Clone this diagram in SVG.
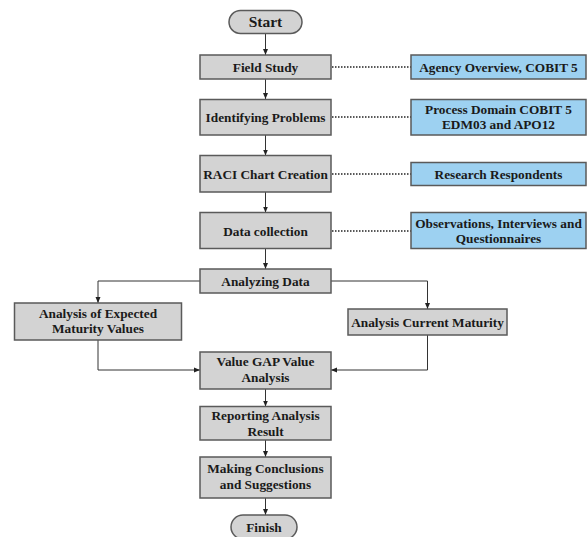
<svg xmlns="http://www.w3.org/2000/svg" width="587" height="537" viewBox="0 0 587 537">
<defs>
<marker id="arr" markerWidth="6" markerHeight="6" refX="6" refY="3" orient="auto" markerUnits="userSpaceOnUse">
<path d="M0,0.5 L6,3 L0,5.5 z" fill="#222"/>
</marker>
<style>
.box{fill:#d3d3d3;stroke:#5a5a5a;stroke-width:1.5}
.blue{fill:#9dd1f1;stroke:#5a5a5a;stroke-width:1.5}
.t{font-family:"Liberation Serif","Times New Roman",serif;font-weight:bold;font-size:13.3px;fill:#1a1a1a;text-anchor:middle}
.c{fill:none;stroke:#333;stroke-width:1}
.d{fill:none;stroke:#222;stroke-width:1.3;stroke-dasharray:1.5 1.5}
</style>
</defs>
<rect width="587" height="537" fill="#fff"/>
<g id="connectors">
<path class="c" d="M265.5,33.5 V55" marker-end="url(#arr)"/>
<path class="c" d="M265.5,79 V99" marker-end="url(#arr)"/>
<path class="c" d="M265.5,135 V155.5" marker-end="url(#arr)"/>
<path class="c" d="M265.5,192 V212.5" marker-end="url(#arr)"/>
<path class="c" d="M265.5,248.5 V269" marker-end="url(#arr)"/>
<path class="c" d="M200,281 H98 V303" marker-end="url(#arr)"/>
<path class="c" d="M331,281 H427.5 V309" marker-end="url(#arr)"/>
<path class="c" d="M98,340 V370 H200" marker-end="url(#arr)"/>
<path class="c" d="M427.5,335 V370 H331" marker-end="url(#arr)"/>
<path class="c" d="M265.5,389 V406.5" marker-end="url(#arr)"/>
<path class="c" d="M265.5,440 V457" marker-end="url(#arr)"/>
<path class="c" d="M265.5,498 V515" marker-end="url(#arr)"/>
<path class="d" d="M332,67 H411"/>
<path class="d" d="M332,117 H411"/>
<path class="d" d="M332,174 H411"/>
<path class="d" d="M332,231 H411"/>
</g>
<g id="start">
<rect class="box" x="229" y="10.5" width="73" height="23" rx="11.5"/>
<text class="t" x="265.5" y="27" font-size="15px" style="font-size:15.5px">Start</text>
</g>
<g id="field-study">
<rect class="box" x="200" y="55" width="131" height="24"/>
<text class="t" x="265.5" y="71.5">Field Study</text>
</g>
<g id="agency-overview">
<rect class="blue" x="411" y="55" width="175" height="24"/>
<text class="t" x="498.5" y="71.5">Agency Overview, COBIT 5</text>
</g>
<g id="identifying-problems">
<rect class="box" x="200" y="99.5" width="131" height="35.5"/>
<text class="t" x="265.5" y="121.5">Identifying Problems</text>
</g>
<g id="process-domain">
<rect class="blue" x="411" y="99.5" width="175" height="35.5"/>
<text class="t" x="498.5" y="114">Process Domain COBIT 5</text>
<text class="t" x="498.5" y="129">EDM03 and APO12</text>
</g>
<g id="raci">
<rect class="box" x="200" y="155.5" width="131" height="36.5"/>
<text class="t" x="265.5" y="178.5">RACI Chart Creation</text>
</g>
<g id="research-respondents">
<rect class="blue" x="411" y="162.5" width="175" height="23"/>
<text class="t" x="498.5" y="178.5">Research Respondents</text>
</g>
<g id="data-collection">
<rect class="box" x="200" y="212.5" width="131" height="36"/>
<text class="t" x="265.5" y="235.5">Data collection</text>
</g>
<g id="observations">
<rect class="blue" x="411" y="212.5" width="175" height="36"/>
<text class="t" x="498.5" y="227.5">Observations, Interviews and</text>
<text class="t" x="498.5" y="243">Questionnaires</text>
</g>
<g id="analyzing-data">
<rect class="box" x="200" y="269" width="131" height="24"/>
<text class="t" x="265.5" y="285.5">Analyzing Data</text>
</g>
<g id="expected-maturity">
<rect class="box" x="14.5" y="303" width="167" height="37"/>
<text class="t" x="98" y="317.5">Analysis of Expected</text>
<text class="t" x="98" y="333">Maturity Values</text>
</g>
<g id="current-maturity">
<rect class="box" x="348" y="309" width="159" height="26"/>
<text class="t" x="427.5" y="326.5">Analysis Current Maturity</text>
</g>
<g id="value-gap">
<rect class="box" x="200" y="352" width="131" height="37"/>
<text class="t" x="265.5" y="366">Value GAP Value</text>
<text class="t" x="265.5" y="381.5">Analysis</text>
</g>
<g id="reporting">
<rect class="box" x="200" y="406.5" width="131" height="33.5"/>
<text class="t" x="265.5" y="420">Reporting Analysis</text>
<text class="t" x="265.5" y="435.5">Result</text>
</g>
<g id="conclusions">
<rect class="box" x="200" y="457" width="131" height="41"/>
<text class="t" x="265.5" y="473">Making Conclusions</text>
<text class="t" x="265.5" y="488.5">and Suggestions</text>
</g>
<g id="finish">
<rect class="box" x="231" y="515" width="66" height="24" rx="12"/>
<text class="t" x="264" y="531.5">Finish</text>
</g>
</svg>
